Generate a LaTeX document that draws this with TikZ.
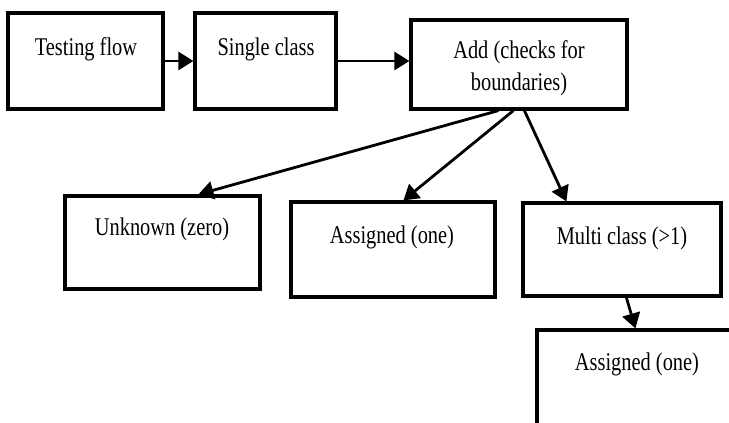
\documentclass[tikz,border=0pt]{standalone}
\usepackage{fontspec}
\setmainfont[FakeStretch=0.8]{Liberation Serif}
\usetikzlibrary{arrows.meta}
\begin{document}
\begin{tikzpicture}[x=1pt,y=-1pt,
  box/.style={draw,line width=3.2pt,inner sep=0pt,fill=white},
  lbl/.style={anchor=base,inner sep=0pt,font=\fontsize{25.5}{32}\selectfont},
  arr/.style={line width=2.8pt,-{Triangle[length=15pt,width=18pt]}}]
\useasboundingbox (0,0) rectangle (729,423);
\clip (0,0) rectangle (729,423);
\fill[white] (0,0) rectangle (729,423);
% boxes
\node[box,minimum width=155pt,minimum height=96pt] (b1) at (85.5,61) {};
\node[box,minimum width=141pt,minimum height=96pt] (b2) at (265.5,61) {};
\node[box,minimum width=216pt,minimum height=89pt] (b3) at (519,64.5) {};
\node[box,minimum width=195pt,minimum height=93pt] (u) at (162.5,242.5) {};
\node[box,minimum width=204pt,minimum height=95pt] (a) at (393,249.5) {};
\node[box,minimum width=198pt,minimum height=93pt] (m) at (622,249.5) {};
\node[box,minimum width=200pt,minimum height=100pt] (a2) at (637,380) {};
% texts
\node[lbl] (t1) at (86,55) {Testing flow};
\node[lbl] (t2) at (266,55) {Single class};
\node[lbl] (t3a) at (519,58) {Add (checks for};
\node[lbl] (t3b) at (519,90) {boundaries)};
\node[lbl] (tu) at (162,235) {Unknown (zero)};
\node[lbl] (ta) at (392,243) {Assigned (one)};
\node[lbl] (tm) at (622,244) {Multi class (>1)};
\node[lbl] (ta2) at (637,370) {Assigned (one)};
% connectors
\draw[arr] (b1.east) -- (b2.west);
\draw[arr] (b2.east) -- (b2.east -| b3.west);
\draw[arr] ([xshift=89pt]b3.south west) -- ([xshift=135pt]u.north west);
\draw[arr] ([xshift=104pt]b3.south west) -- ([xshift=114pt]a.north west);
\draw[arr] ([xshift=115pt]b3.south west) -- ([xshift=45pt]m.north west);
\draw[arr] ([xshift=105pt]m.south west) -- ([xshift=100pt]a2.north west);
\end{tikzpicture}
\end{document}
